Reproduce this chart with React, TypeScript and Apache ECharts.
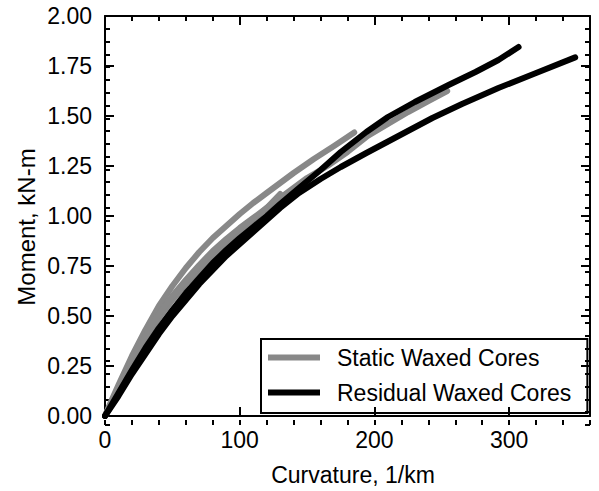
import React, { useEffect, useRef } from "react";
import * as echarts from "echarts";

const FONT = "'Liberation Sans', Arial, Helvetica, sans-serif";

const xTicksMajor = [0, 100, 200, 300];
const yTickLabels = ["0.00", "0.25", "0.50", "0.75", "1.00", "1.25", "1.50", "1.75", "2.00"];

// Static Waxed Cores (grey)
const static1X = [0, 5, 10, 20, 30, 40, 50, 60, 70, 80, 90, 100, 110, 120, 130];
const static1Y = [0, 0.07, 0.14, 0.27, 0.39, 0.49, 0.58, 0.66, 0.73, 0.8, 0.86, 0.92, 0.98, 1.04, 1.11];

const static2X = [0, 5, 10, 20, 30, 40, 50, 60, 70, 80, 90, 100, 110, 120, 130, 140, 155, 170, 185];
const static2Y = [0, 0.08, 0.155, 0.3, 0.43, 0.55, 0.65, 0.74, 0.82, 0.89, 0.95, 1.01, 1.065, 1.115, 1.165, 1.215, 1.285, 1.35, 1.418];

const static3X = [0, 10, 20, 30, 40, 50, 60, 70, 80, 90, 100, 110, 120, 130, 140, 150, 165, 180, 195, 210, 225, 240, 254];
const static3Y = [0, 0.14, 0.28, 0.4, 0.51, 0.6, 0.68, 0.755, 0.825, 0.885, 0.94, 0.99, 1.04, 1.09, 1.14, 1.19, 1.25, 1.32, 1.4, 1.46, 1.52, 1.575, 1.625];

// Residual Waxed Cores (black)
const resid1X = [0, 10, 20, 30, 40, 50, 60, 70, 80, 90, 100, 110, 120, 130, 144, 160, 175, 194, 210, 230, 255, 275, 292, 307];
const resid1Y = [0, 0.115, 0.23, 0.34, 0.44, 0.53, 0.615, 0.69, 0.765, 0.83, 0.89, 0.945, 1.0, 1.06, 1.14, 1.23, 1.32, 1.42, 1.495, 1.57, 1.655, 1.72, 1.78, 1.845];

const resid2X = [0, 10, 20, 30, 40, 50, 60, 70, 80, 90, 100, 110, 120, 130, 144, 160, 175, 194, 215, 243, 265, 292, 320, 349];
const resid2Y = [0, 0.1, 0.21, 0.31, 0.41, 0.5, 0.58, 0.66, 0.73, 0.8, 0.86, 0.92, 0.98, 1.04, 1.115, 1.185, 1.245, 1.315, 1.39, 1.49, 1.56, 1.64, 1.715, 1.793];

const STATIC_NAME = "Static Waxed Cores";
const RESID_NAME = "Residual Waxed Cores";
const X_TITLE = "Curvature, 1/km";
const Y_TITLE = "Moment, kN-m";
const GREY = "#888888";
const BLACK = "#000000";

function pairs(xs: number[], ys: number[]) {
  return xs.map((x, i) => [x, ys[i]]);
}

export default function App() {
  const ref = useRef<HTMLDivElement>(null);
  useEffect(() => {
    if (!ref.current) return;
    const chart = echarts.init(ref.current, null, { renderer: "svg" });
    const tickStyle = { color: "#000", width: 2 };
    const mkX = (grid: number, pos: "top" | "bottom", interval: number, len: number, extra: any = {}) => ({
      type: "value",
      gridIndex: grid,
      position: pos,
      min: 0,
      max: 360,
      interval,
      splitLine: { show: false },
      axisLine: { show: grid === 0, onZero: false, lineStyle: { color: "#000", width: 2 } },
      axisTick: { show: true, inside: true, length: len, lineStyle: tickStyle },
      axisLabel: { show: false },
      ...extra,
    });
    const mkY = (grid: number, pos: "left" | "right", interval: number, len: number, extra: any = {}) => ({
      type: "value",
      gridIndex: grid,
      position: pos,
      min: 0,
      max: 2,
      interval,
      splitLine: { show: false },
      axisLine: { show: grid === 0, onZero: false, lineStyle: { color: "#000", width: 2 } },
      axisTick: { show: true, inside: true, length: len, lineStyle: tickStyle },
      axisLabel: { show: false },
      ...extra,
    });
    const lineSeries = (name: string, color: string, xs: number[], ys: number[]) => ({
      type: "line",
      name,
      xAxisIndex: 0,
      yAxisIndex: 0,
      data: pairs(xs, ys),
      showSymbol: false,
      symbol: "none",
      color,
      lineStyle: { color, width: 6, cap: "round", join: "round" },
      itemStyle: { color },
      z: color === BLACK ? 3 : 2,
    });
    const gridRect = { left: 105, right: 9, top: 16, bottom: 66, containLabel: false };
    chart.setOption({
      animation: false,
      backgroundColor: "#ffffff",
      textStyle: { fontFamily: FONT },
      grid: [gridRect, gridRect],
      graphic: [
        {
          type: "text",
          x: 26,
          y: 227,
          rotation: Math.PI / 2,
          style: {
            text: Y_TITLE,
            fontFamily: FONT,
            fontSize: 24,
            fill: "#000",
            textAlign: "center",
            textVerticalAlign: "middle",
          },
        },
      ],
      legend: {
        data: [STATIC_NAME, RESID_NAME],
        orient: "vertical",
        left: 261,
        top: 339,
        padding: [7, 16, 9, 7],
        itemGap: 12,
        itemWidth: 52,
        itemHeight: 6,
        icon: "rect",
        borderColor: "#000",
        borderWidth: 2,
        textStyle: { fontFamily: FONT, fontSize: 23, color: "#000", padding: [0, 0, 0, 12] },
        selectedMode: false,
      },
      xAxis: [
        mkX(0, "bottom", 100, 9, {
          axisLabel: {
            show: true,
            showMaxLabel: false,
            margin: 12,
            fontFamily: FONT,
            fontSize: 23,
            color: "#000",
            formatter: (v: number) => (xTicksMajor.includes(v) ? String(v) : ""),
          },
          name: X_TITLE,
          nameLocation: "middle",
          nameGap: 47,
          nameTextStyle: { fontFamily: FONT, fontSize: 23, color: "#000", padding: [0, 0, 0, 11] },
        }),
        mkX(0, "top", 100, 9),
        mkX(1, "bottom", 20, 5),
        mkX(1, "top", 20, 5),
      ],
      yAxis: [
        mkY(0, "left", 0.25, 9, {
          axisLabel: {
            show: true,
            margin: 13,
            fontFamily: FONT,
            fontSize: 23,
            color: "#000",
            formatter: (v: number) => yTickLabels[Math.round(v / 0.25)] ?? "",
          },
        }),
        mkY(0, "right", 0.25, 9),
        mkY(1, "left", 0.0625, 5),
        mkY(1, "right", 0.0625, 5),
      ],
      series: [
        lineSeries(STATIC_NAME, GREY, static1X, static1Y),
        lineSeries(STATIC_NAME, GREY, static2X, static2Y),
        lineSeries(RESID_NAME, BLACK, resid2X, resid2Y),
        lineSeries(RESID_NAME, BLACK, resid1X, resid1Y),
        { ...lineSeries(STATIC_NAME, GREY, static3X, static3Y), z: 2 },
      ],
    });
    return () => chart.dispose();
  }, []);
  return <div ref={ref} style={{ width: 599, height: 491, position: "absolute", left: 0, top: 0 }} />;
}
